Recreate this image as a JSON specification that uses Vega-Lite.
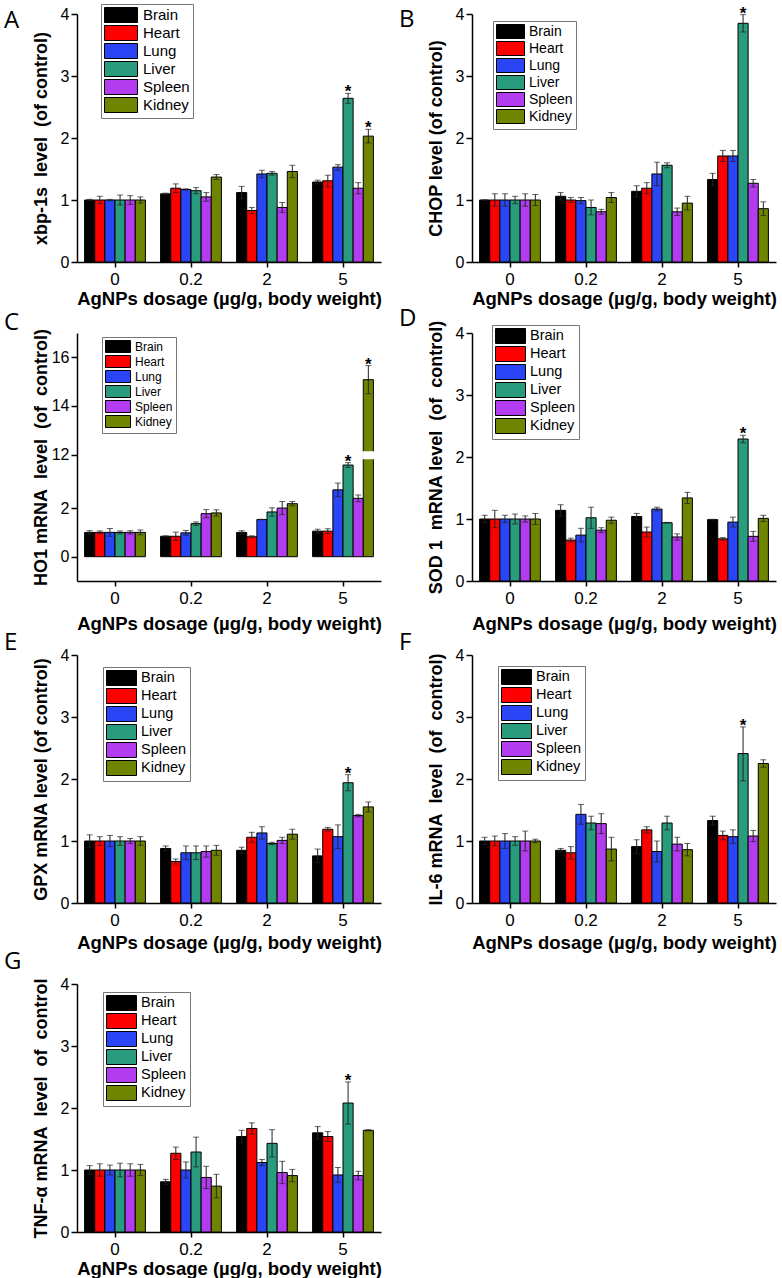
{
"$schema": "https://vega.github.io/schema/vega-lite/v6.json",
"background": "white",
"padding": {"left": 4, "top": 3, "right": 0, "bottom": 0},
"datasets": {"d": [
{"p":"A","d":"0","o":"Brain","v":1.0,"lo":0.99,"hi":1.01},
{"p":"A","d":"0","o":"Heart","v":1.0,"lo":0.94,"hi":1.06},
{"p":"A","d":"0","o":"Lung","v":1.0,"lo":0.99,"hi":1.01},
{"p":"A","d":"0","o":"Liver","v":1.0,"lo":0.92,"hi":1.08},
{"p":"A","d":"0","o":"Spleen","v":1.0,"lo":0.93,"hi":1.07},
{"p":"A","d":"0","o":"Kidney","v":1.0,"lo":0.95,"hi":1.05},
{"p":"A","d":"0.2","o":"Brain","v":1.10,"lo":1.09,"hi":1.11},
{"p":"A","d":"0.2","o":"Heart","v":1.19,"lo":1.12,"hi":1.26},
{"p":"A","d":"0.2","o":"Lung","v":1.17,"lo":1.16,"hi":1.18},
{"p":"A","d":"0.2","o":"Liver","v":1.15,"lo":1.10,"hi":1.20},
{"p":"A","d":"0.2","o":"Spleen","v":1.05,"lo":0.98,"hi":1.12},
{"p":"A","d":"0.2","o":"Kidney","v":1.37,"lo":1.33,"hi":1.41},
{"p":"A","d":"2","o":"Brain","v":1.12,"lo":1.02,"hi":1.22},
{"p":"A","d":"2","o":"Heart","v":0.83,"lo":0.78,"hi":0.88},
{"p":"A","d":"2","o":"Lung","v":1.42,"lo":1.36,"hi":1.48},
{"p":"A","d":"2","o":"Liver","v":1.43,"lo":1.40,"hi":1.46},
{"p":"A","d":"2","o":"Spleen","v":0.88,"lo":0.80,"hi":0.96},
{"p":"A","d":"2","o":"Kidney","v":1.46,"lo":1.36,"hi":1.56},
{"p":"A","d":"5","o":"Brain","v":1.29,"lo":1.26,"hi":1.32},
{"p":"A","d":"5","o":"Heart","v":1.31,"lo":1.21,"hi":1.40},
{"p":"A","d":"5","o":"Lung","v":1.53,"lo":1.48,"hi":1.57},
{"p":"A","d":"5","o":"Liver","v":2.64,"lo":2.56,"hi":2.72,"s":1},
{"p":"A","d":"5","o":"Spleen","v":1.19,"lo":1.10,"hi":1.28},
{"p":"A","d":"5","o":"Kidney","v":2.03,"lo":1.92,"hi":2.14,"s":1},
{"p":"B","d":"0","o":"Brain","v":1.0,"lo":1.0,"hi":1.0},
{"p":"B","d":"0","o":"Heart","v":1.0,"lo":0.9,"hi":1.1},
{"p":"B","d":"0","o":"Lung","v":1.0,"lo":0.9,"hi":1.1},
{"p":"B","d":"0","o":"Liver","v":1.0,"lo":0.94,"hi":1.06},
{"p":"B","d":"0","o":"Spleen","v":1.0,"lo":0.9,"hi":1.1},
{"p":"B","d":"0","o":"Kidney","v":1.0,"lo":0.91,"hi":1.09},
{"p":"B","d":"0.2","o":"Brain","v":1.06,"lo":1.0,"hi":1.12},
{"p":"B","d":"0.2","o":"Heart","v":1.0,"lo":0.96,"hi":1.04},
{"p":"B","d":"0.2","o":"Lung","v":0.99,"lo":0.94,"hi":1.04},
{"p":"B","d":"0.2","o":"Liver","v":0.88,"lo":0.76,"hi":1.0},
{"p":"B","d":"0.2","o":"Spleen","v":0.81,"lo":0.77,"hi":0.85},
{"p":"B","d":"0.2","o":"Kidney","v":1.04,"lo":0.96,"hi":1.12},
{"p":"B","d":"2","o":"Brain","v":1.14,"lo":1.05,"hi":1.23},
{"p":"B","d":"2","o":"Heart","v":1.19,"lo":1.1,"hi":1.28},
{"p":"B","d":"2","o":"Lung","v":1.42,"lo":1.23,"hi":1.61},
{"p":"B","d":"2","o":"Liver","v":1.56,"lo":1.52,"hi":1.6},
{"p":"B","d":"2","o":"Spleen","v":0.81,"lo":0.75,"hi":0.87},
{"p":"B","d":"2","o":"Kidney","v":0.95,"lo":0.84,"hi":1.06},
{"p":"B","d":"5","o":"Brain","v":1.33,"lo":1.23,"hi":1.43},
{"p":"B","d":"5","o":"Heart","v":1.71,"lo":1.62,"hi":1.8},
{"p":"B","d":"5","o":"Lung","v":1.71,"lo":1.62,"hi":1.8},
{"p":"B","d":"5","o":"Liver","v":3.85,"lo":3.71,"hi":3.99,"s":1},
{"p":"B","d":"5","o":"Spleen","v":1.27,"lo":1.21,"hi":1.33},
{"p":"B","d":"5","o":"Kidney","v":0.86,"lo":0.75,"hi":0.97},
{"p":"C","d":"0","o":"Brain","v":1.0,"lo":0.93,"hi":1.07},
{"p":"C","d":"0","o":"Heart","v":1.0,"lo":0.94,"hi":1.06},
{"p":"C","d":"0","o":"Lung","v":1.0,"lo":0.84,"hi":1.16},
{"p":"C","d":"0","o":"Liver","v":1.0,"lo":0.94,"hi":1.06},
{"p":"C","d":"0","o":"Spleen","v":1.0,"lo":0.93,"hi":1.07},
{"p":"C","d":"0","o":"Kidney","v":1.0,"lo":0.9,"hi":1.1},
{"p":"C","d":"0.2","o":"Brain","v":0.84,"lo":0.82,"hi":0.86},
{"p":"C","d":"0.2","o":"Heart","v":0.84,"lo":0.67,"hi":1.01},
{"p":"C","d":"0.2","o":"Lung","v":0.98,"lo":0.88,"hi":1.08},
{"p":"C","d":"0.2","o":"Liver","v":1.36,"lo":1.29,"hi":1.43},
{"p":"C","d":"0.2","o":"Spleen","v":1.77,"lo":1.6,"hi":1.94},
{"p":"C","d":"0.2","o":"Kidney","v":1.8,"lo":1.67,"hi":1.93},
{"p":"C","d":"2","o":"Brain","v":1.0,"lo":0.93,"hi":1.07},
{"p":"C","d":"2","o":"Heart","v":0.82,"lo":0.78,"hi":0.86},
{"p":"C","d":"2","o":"Lung","v":1.53,"lo":1.52,"hi":1.54},
{"p":"C","d":"2","o":"Liver","v":1.84,"lo":1.67,"hi":2.01},
{"p":"C","d":"2","o":"Spleen","v":2.0,"lo":1.73,"hi":2.27},
{"p":"C","d":"2","o":"Kidney","v":2.18,"lo":2.09,"hi":2.27},
{"p":"C","d":"5","o":"Brain","v":1.05,"lo":0.97,"hi":1.13},
{"p":"C","d":"5","o":"Heart","v":1.05,"lo":0.95,"hi":1.15},
{"p":"C","d":"5","o":"Lung","v":2.75,"lo":2.47,"hi":3.03},
{"p":"C","d":"5","o":"Liver","v":3.77,"lo":3.67,"hi":3.87,"s":1},
{"p":"C","d":"5","o":"Spleen","v":2.4,"lo":2.26,"hi":2.54},
{"p":"C","d":"5","o":"Kidney","v":15.08,"lo":14.5,"hi":15.66,"s":1},
{"p":"D","d":"0","o":"Brain","v":1.0,"lo":0.94,"hi":1.06},
{"p":"D","d":"0","o":"Heart","v":1.0,"lo":0.86,"hi":1.14},
{"p":"D","d":"0","o":"Lung","v":1.0,"lo":0.94,"hi":1.06},
{"p":"D","d":"0","o":"Liver","v":1.0,"lo":0.92,"hi":1.08},
{"p":"D","d":"0","o":"Spleen","v":1.0,"lo":0.95,"hi":1.05},
{"p":"D","d":"0","o":"Kidney","v":1.0,"lo":0.91,"hi":1.09},
{"p":"D","d":"0.2","o":"Brain","v":1.14,"lo":1.05,"hi":1.23},
{"p":"D","d":"0.2","o":"Heart","v":0.66,"lo":0.63,"hi":0.69},
{"p":"D","d":"0.2","o":"Lung","v":0.74,"lo":0.63,"hi":0.85},
{"p":"D","d":"0.2","o":"Liver","v":1.02,"lo":0.85,"hi":1.19},
{"p":"D","d":"0.2","o":"Spleen","v":0.82,"lo":0.78,"hi":0.86},
{"p":"D","d":"0.2","o":"Kidney","v":0.98,"lo":0.93,"hi":1.03},
{"p":"D","d":"2","o":"Brain","v":1.04,"lo":0.99,"hi":1.09},
{"p":"D","d":"2","o":"Heart","v":0.79,"lo":0.71,"hi":0.87},
{"p":"D","d":"2","o":"Lung","v":1.16,"lo":1.13,"hi":1.19},
{"p":"D","d":"2","o":"Liver","v":0.94,"lo":0.935,"hi":0.945},
{"p":"D","d":"2","o":"Spleen","v":0.71,"lo":0.66,"hi":0.76},
{"p":"D","d":"2","o":"Kidney","v":1.34,"lo":1.25,"hi":1.43},
{"p":"D","d":"5","o":"Brain","v":0.99,"lo":0.985,"hi":0.995},
{"p":"D","d":"5","o":"Heart","v":0.68,"lo":0.66,"hi":0.7},
{"p":"D","d":"5","o":"Lung","v":0.95,"lo":0.87,"hi":1.03},
{"p":"D","d":"5","o":"Liver","v":2.29,"lo":2.23,"hi":2.35,"s":1},
{"p":"D","d":"5","o":"Spleen","v":0.72,"lo":0.64,"hi":0.8},
{"p":"D","d":"5","o":"Kidney","v":1.01,"lo":0.96,"hi":1.06},
{"p":"E","d":"0","o":"Brain","v":1.0,"lo":0.9,"hi":1.1},
{"p":"E","d":"0","o":"Heart","v":1.0,"lo":0.93,"hi":1.07},
{"p":"E","d":"0","o":"Lung","v":1.0,"lo":0.91,"hi":1.09},
{"p":"E","d":"0","o":"Liver","v":1.0,"lo":0.93,"hi":1.07},
{"p":"E","d":"0","o":"Spleen","v":1.0,"lo":0.96,"hi":1.04},
{"p":"E","d":"0","o":"Kidney","v":1.0,"lo":0.93,"hi":1.07},
{"p":"E","d":"0.2","o":"Brain","v":0.88,"lo":0.84,"hi":0.92},
{"p":"E","d":"0.2","o":"Heart","v":0.67,"lo":0.63,"hi":0.71},
{"p":"E","d":"0.2","o":"Lung","v":0.81,"lo":0.7,"hi":0.92},
{"p":"E","d":"0.2","o":"Liver","v":0.81,"lo":0.7,"hi":0.92},
{"p":"E","d":"0.2","o":"Spleen","v":0.83,"lo":0.74,"hi":0.92},
{"p":"E","d":"0.2","o":"Kidney","v":0.85,"lo":0.77,"hi":0.93},
{"p":"E","d":"2","o":"Brain","v":0.85,"lo":0.8,"hi":0.9},
{"p":"E","d":"2","o":"Heart","v":1.06,"lo":0.98,"hi":1.14},
{"p":"E","d":"2","o":"Lung","v":1.13,"lo":1.03,"hi":1.23},
{"p":"E","d":"2","o":"Liver","v":0.96,"lo":0.94,"hi":0.98},
{"p":"E","d":"2","o":"Spleen","v":1.01,"lo":0.96,"hi":1.06},
{"p":"E","d":"2","o":"Kidney","v":1.11,"lo":1.03,"hi":1.19},
{"p":"E","d":"5","o":"Brain","v":0.76,"lo":0.65,"hi":0.87},
{"p":"E","d":"5","o":"Heart","v":1.19,"lo":1.16,"hi":1.22},
{"p":"E","d":"5","o":"Lung","v":1.07,"lo":0.88,"hi":1.26},
{"p":"E","d":"5","o":"Liver","v":1.94,"lo":1.81,"hi":2.07,"s":1},
{"p":"E","d":"5","o":"Spleen","v":1.41,"lo":1.39,"hi":1.43},
{"p":"E","d":"5","o":"Kidney","v":1.55,"lo":1.47,"hi":1.63},
{"p":"F","d":"0","o":"Brain","v":1.0,"lo":0.94,"hi":1.06},
{"p":"F","d":"0","o":"Heart","v":1.0,"lo":0.92,"hi":1.08},
{"p":"F","d":"0","o":"Lung","v":1.0,"lo":0.88,"hi":1.12},
{"p":"F","d":"0","o":"Liver","v":1.0,"lo":0.93,"hi":1.07},
{"p":"F","d":"0","o":"Spleen","v":1.0,"lo":0.84,"hi":1.16},
{"p":"F","d":"0","o":"Kidney","v":1.0,"lo":0.97,"hi":1.03},
{"p":"F","d":"0.2","o":"Brain","v":0.85,"lo":0.82,"hi":0.88},
{"p":"F","d":"0.2","o":"Heart","v":0.81,"lo":0.71,"hi":0.91},
{"p":"F","d":"0.2","o":"Lung","v":1.43,"lo":1.27,"hi":1.59},
{"p":"F","d":"0.2","o":"Liver","v":1.29,"lo":1.18,"hi":1.4},
{"p":"F","d":"0.2","o":"Spleen","v":1.28,"lo":1.12,"hi":1.44},
{"p":"F","d":"0.2","o":"Kidney","v":0.87,"lo":0.68,"hi":1.06},
{"p":"F","d":"2","o":"Brain","v":0.91,"lo":0.8,"hi":1.02},
{"p":"F","d":"2","o":"Heart","v":1.18,"lo":1.13,"hi":1.23},
{"p":"F","d":"2","o":"Lung","v":0.83,"lo":0.66,"hi":1.0},
{"p":"F","d":"2","o":"Liver","v":1.29,"lo":1.18,"hi":1.4},
{"p":"F","d":"2","o":"Spleen","v":0.95,"lo":0.84,"hi":1.06},
{"p":"F","d":"2","o":"Kidney","v":0.86,"lo":0.76,"hi":0.96},
{"p":"F","d":"5","o":"Brain","v":1.33,"lo":1.26,"hi":1.4},
{"p":"F","d":"5","o":"Heart","v":1.09,"lo":1.02,"hi":1.16},
{"p":"F","d":"5","o":"Lung","v":1.07,"lo":0.96,"hi":1.18},
{"p":"F","d":"5","o":"Liver","v":2.41,"lo":1.97,"hi":2.84,"s":1},
{"p":"F","d":"5","o":"Spleen","v":1.08,"lo":0.99,"hi":1.17},
{"p":"F","d":"5","o":"Kidney","v":2.25,"lo":2.19,"hi":2.31},
{"p":"G","d":"0","o":"Brain","v":1.0,"lo":0.93,"hi":1.07},
{"p":"G","d":"0","o":"Heart","v":1.0,"lo":0.9,"hi":1.1},
{"p":"G","d":"0","o":"Lung","v":1.0,"lo":0.92,"hi":1.08},
{"p":"G","d":"0","o":"Liver","v":1.0,"lo":0.89,"hi":1.11},
{"p":"G","d":"0","o":"Spleen","v":1.0,"lo":0.9,"hi":1.1},
{"p":"G","d":"0","o":"Kidney","v":1.0,"lo":0.91,"hi":1.09},
{"p":"G","d":"0.2","o":"Brain","v":0.81,"lo":0.77,"hi":0.85},
{"p":"G","d":"0.2","o":"Heart","v":1.27,"lo":1.17,"hi":1.37},
{"p":"G","d":"0.2","o":"Lung","v":1.0,"lo":0.87,"hi":1.13},
{"p":"G","d":"0.2","o":"Liver","v":1.29,"lo":1.05,"hi":1.53},
{"p":"G","d":"0.2","o":"Spleen","v":0.88,"lo":0.7,"hi":1.06},
{"p":"G","d":"0.2","o":"Kidney","v":0.74,"lo":0.55,"hi":0.93},
{"p":"G","d":"2","o":"Brain","v":1.54,"lo":1.44,"hi":1.64},
{"p":"G","d":"2","o":"Heart","v":1.67,"lo":1.58,"hi":1.76},
{"p":"G","d":"2","o":"Lung","v":1.12,"lo":1.07,"hi":1.17},
{"p":"G","d":"2","o":"Liver","v":1.43,"lo":1.21,"hi":1.65},
{"p":"G","d":"2","o":"Spleen","v":0.96,"lo":0.78,"hi":1.14},
{"p":"G","d":"2","o":"Kidney","v":0.91,"lo":0.81,"hi":1.01},
{"p":"G","d":"5","o":"Brain","v":1.6,"lo":1.5,"hi":1.7},
{"p":"G","d":"5","o":"Heart","v":1.54,"lo":1.46,"hi":1.62},
{"p":"G","d":"5","o":"Lung","v":0.92,"lo":0.8,"hi":1.04},
{"p":"G","d":"5","o":"Liver","v":2.08,"lo":1.74,"hi":2.42,"s":1},
{"p":"G","d":"5","o":"Spleen","v":0.91,"lo":0.84,"hi":0.98},
{"p":"G","d":"5","o":"Kidney","v":1.64,"lo":1.63,"hi":1.65}
]},
"data": {"name": "d"},
"resolve": {"legend": {"color": "independent"}},
"spacing": -2,
"vconcat": [
{"hconcat": [
 {"width": 304, "height": 248,
  "title": {"text": "A", "offset": -29},
  "transform": [{"filter": "datum.p == 'A'"}],
  "encoding": {
   "x": {"field": "d", "type": "nominal", "sort": ["0","0.2","2","5"], "scale": {"paddingInner": 0.2, "paddingOuter": 0.1}, "title": "AgNPs dosage (µg/g, body weight)"},
   "xOffset": {"field": "o", "type": "nominal", "sort": ["Brain","Heart","Lung","Liver","Spleen","Kidney"], "scale": {"paddingInner": 0, "paddingOuter": 0}}
  },
  "layer": [
   {"mark": {"type": "bar", "stroke": "black", "strokeWidth": 1},
    "encoding": {
     "y": {"field": "v", "type": "quantitative", "title": "xbp-1s\u00a0 level\u00a0 (of control)", "scale": {"domain": [0, 4], "nice": false},
      "axis": {"values": [0,0.5,1,1.5,2,2.5,3,3.5,4], "labelExpr": "datum.value % 1 === 0 ? format(datum.value, 'd') : ''", "tickSize": {"condition": {"test": "datum.value % 1 !== 0", "value": 3}, "value": 6}}},
     "color": {"field": "o", "type": "nominal", "sort": ["Brain","Heart","Lung","Liver","Spleen","Kidney"],
      "scale": {"domain": ["Brain","Heart","Lung","Liver","Spleen","Kidney"], "range": ["#000000","#ff0000","#2a45f5","#289c7c","#b43cf0","#6f8500"]},
      "legend": {"title": null, "orient": "none", "legendX": 24, "legendY": -10, "symbolType": "M-1,-1H3.4V1H-1Z", "symbolSize": 225, "labelOffset": 23, "labelFontSize": 15, "rowPadding": -2}}
    }},
   {"mark": {"type": "errorbar", "ticks": {"size": 6}, "color": "#222", "thickness": 1},
    "encoding": {"y": {"field": "lo", "type": "quantitative", "title": "xbp-1s\u00a0 level\u00a0 (of control)"}, "y2": {"field": "hi"}}},
   {"transform": [{"filter": "datum.s == 1"}],
    "mark": {"type": "text", "text": "*", "fontSize": 17, "fontWeight": "bold", "baseline": "alphabetic", "dy": 4},
    "encoding": {"y": {"field": "hi", "type": "quantitative", "title": "xbp-1s\u00a0 level\u00a0 (of control)"}}}
  ]},
 {"width": 304, "height": 248,
  "title": {"text": "B", "offset": -27},
  "transform": [{"filter": "datum.p == 'B'"}],
  "encoding": {
   "x": {"field": "d", "type": "nominal", "sort": ["0","0.2","2","5"], "scale": {"paddingInner": 0.2, "paddingOuter": 0.1}, "title": "AgNPs dosage (µg/g, body weight)"},
   "xOffset": {"field": "o", "type": "nominal", "sort": ["Brain","Heart","Lung","Liver","Spleen","Kidney"], "scale": {"paddingInner": 0, "paddingOuter": 0}}
  },
  "layer": [
   {"mark": {"type": "bar", "stroke": "black", "strokeWidth": 1},
    "encoding": {
     "y": {"field": "v", "type": "quantitative", "title": "CHOP level (of control)", "scale": {"domain": [0, 4], "nice": false},
      "axis": {"values": [0,0.5,1,1.5,2,2.5,3,3.5,4], "labelExpr": "datum.value % 1 === 0 ? format(datum.value, 'd') : ''", "tickSize": {"condition": {"test": "datum.value % 1 !== 0", "value": 3}, "value": 6}}},
     "color": {"field": "o", "type": "nominal", "sort": ["Brain","Heart","Lung","Liver","Spleen","Kidney"],
      "scale": {"domain": ["Brain","Heart","Lung","Liver","Spleen","Kidney"], "range": ["#000000","#ff0000","#2a45f5","#289c7c","#b43cf0","#6f8500"]},
      "legend": {"title": null, "orient": "none", "legendX": 21, "legendY": 7, "symbolType": "M-1,-1H3V1H-1Z", "symbolSize": 196, "labelOffset": 18, "labelFontSize": 14, "rowPadding": -2.4}}
    }},
   {"mark": {"type": "errorbar", "ticks": {"size": 6}, "color": "#222", "thickness": 1},
    "encoding": {"y": {"field": "lo", "type": "quantitative", "title": "CHOP level (of control)"}, "y2": {"field": "hi"}}},
   {"transform": [{"filter": "datum.s == 1"}],
    "mark": {"type": "text", "text": "*", "fontSize": 17, "fontWeight": "bold", "baseline": "alphabetic", "dy": 4},
    "encoding": {"y": {"field": "hi", "type": "quantitative", "title": "CHOP level (of control)"}}}
  ]}
 ], "spacing": 17, "resolve": {"legend": {"color": "independent"}}},
{"hconcat": [
 {"width": 304, "height": 248,
  "title": {"text": "C", "offset": -7},
  "transform": [{"filter": "datum.p == 'C'"}],
  "encoding": {
   "x": {"field": "d", "type": "nominal", "sort": ["0","0.2","2","5"], "scale": {"paddingInner": 0.2, "paddingOuter": 0.1}, "title": "AgNPs dosage (µg/g, body weight)", "axis": {"titlePadding": 8}},
   "xOffset": {"field": "o", "type": "nominal", "sort": ["Brain","Heart","Lung","Liver","Spleen","Kidney"], "scale": {"paddingInner": 0, "paddingOuter": 0}}
  },
  "layer": [
   {"mark": {"type": "bar", "stroke": "black", "strokeWidth": 1},
    "encoding": {
     "y": {"field": "v", "type": "quantitative", "title": "HO1 mRNA\u00a0 level\u00a0 (of\u00a0 control)", "scale": {"domain": [-1, 4.2, 12, 17], "range": [248, 121.6, 121.6, 0], "nice": false, "zero": false},
      "axis": {"values": [0,1,2,3,12,13,14,15,16], "titlePadding": 1, "labelExpr": "datum.value % 2 === 0 ? format(datum.value, 'd') : ''", "tickSize": {"condition": {"test": "datum.value % 2 !== 0", "value": 3}, "value": 6}}},
     "color": {"field": "o", "type": "nominal", "sort": ["Brain","Heart","Lung","Liver","Spleen","Kidney"],
      "scale": {"domain": ["Brain","Heart","Lung","Liver","Spleen","Kidney"], "range": ["#000000","#ff0000","#2a45f5","#289c7c","#b43cf0","#6f8500"]},
      "legend": {"title": null, "orient": "none", "legendX": 25, "legendY": 4, "symbolType": "M-1,-1H3.17V1H-1Z", "symbolSize": 144, "labelOffset": 17, "labelFontSize": 12, "rowPadding": -2.7}}
    }},
   {"mark": {"type": "errorbar", "ticks": {"size": 6}, "color": "#222", "thickness": 1},
    "encoding": {"y": {"field": "lo", "type": "quantitative", "title": "HO1 mRNA\u00a0 level\u00a0 (of\u00a0 control)"}, "y2": {"field": "hi"}}},
   {"transform": [{"filter": "datum.s == 1"}],
    "mark": {"type": "text", "text": "*", "fontSize": 17, "fontWeight": "bold", "baseline": "alphabetic", "dy": 4},
    "encoding": {"y": {"field": "hi", "type": "quantitative", "title": "HO1 mRNA\u00a0 level\u00a0 (of\u00a0 control)"}}},
   {"data": {"values": [{}]},
    "mark": {"type": "bar", "color": "white", "stroke": "white", "strokeWidth": 2},
    "encoding": {"x": {"datum": "5"}, "xOffset": {"datum": "Kidney"}, "y": {"datum": 4.05}, "y2": {"datum": 12.1}}}
  ]},
 {"width": 304, "height": 248,
  "title": {"text": "D", "offset": -11},
  "transform": [{"filter": "datum.p == 'D'"}],
  "encoding": {
   "x": {"field": "d", "type": "nominal", "sort": ["0","0.2","2","5"], "scale": {"paddingInner": 0.2, "paddingOuter": 0.1}, "title": "AgNPs dosage (µg/g, body weight)", "axis": {"titlePadding": 8}},
   "xOffset": {"field": "o", "type": "nominal", "sort": ["Brain","Heart","Lung","Liver","Spleen","Kidney"], "scale": {"paddingInner": 0, "paddingOuter": 0}}
  },
  "layer": [
   {"mark": {"type": "bar", "stroke": "black", "strokeWidth": 1},
    "encoding": {
     "y": {"field": "v", "type": "quantitative", "title": "SOD 1\u00a0 mRNA level\u00a0 (of\u00a0 control)", "scale": {"domain": [0, 4], "nice": false},
      "axis": {"values": [0,0.5,1,1.5,2,2.5,3,3.5,4], "labelExpr": "datum.value % 1 === 0 ? format(datum.value, 'd') : ''", "tickSize": {"condition": {"test": "datum.value % 1 !== 0", "value": 3}, "value": 6}}},
     "color": {"field": "o", "type": "nominal", "sort": ["Brain","Heart","Lung","Liver","Spleen","Kidney"],
      "scale": {"domain": ["Brain","Heart","Lung","Liver","Spleen","Kidney"], "range": ["#000000","#ff0000","#2a45f5","#289c7c","#b43cf0","#6f8500"]},
      "legend": {"title": null, "orient": "none", "legendX": 20, "legendY": -8, "symbolType": "M-1,-1H3V1H-1Z", "symbolSize": 225, "labelOffset": 19, "labelFontSize": 14.5, "rowPadding": -3}}
    }},
   {"mark": {"type": "errorbar", "ticks": {"size": 6}, "color": "#222", "thickness": 1},
    "encoding": {"y": {"field": "lo", "type": "quantitative", "title": "SOD 1\u00a0 mRNA level\u00a0 (of\u00a0 control)"}, "y2": {"field": "hi"}}},
   {"transform": [{"filter": "datum.s == 1"}],
    "mark": {"type": "text", "text": "*", "fontSize": 17, "fontWeight": "bold", "baseline": "alphabetic", "dy": 4},
    "encoding": {"y": {"field": "hi", "type": "quantitative", "title": "SOD 1\u00a0 mRNA level\u00a0 (of\u00a0 control)"}}}
  ]}
 ], "spacing": 17, "resolve": {"legend": {"color": "independent"}}},
{"hconcat": [
 {"width": 304, "height": 248,
  "title": {"text": "E", "offset": -8},
  "transform": [{"filter": "datum.p == 'E'"}],
  "encoding": {
   "x": {"field": "d", "type": "nominal", "sort": ["0","0.2","2","5"], "scale": {"paddingInner": 0.2, "paddingOuter": 0.1}, "title": "AgNPs dosage (µg/g, body weight)", "axis": {"titlePadding": 5}},
   "xOffset": {"field": "o", "type": "nominal", "sort": ["Brain","Heart","Lung","Liver","Spleen","Kidney"], "scale": {"paddingInner": 0, "paddingOuter": 0}}
  },
  "layer": [
   {"mark": {"type": "bar", "stroke": "black", "strokeWidth": 1},
    "encoding": {
     "y": {"field": "v", "type": "quantitative", "title": "GPX mRNA level (of control)", "scale": {"domain": [0, 4], "nice": false},
      "axis": {"values": [0,0.5,1,1.5,2,2.5,3,3.5,4], "labelExpr": "datum.value % 1 === 0 ? format(datum.value, 'd') : ''", "tickSize": {"condition": {"test": "datum.value % 1 !== 0", "value": 3}, "value": 6}}},
     "color": {"field": "o", "type": "nominal", "sort": ["Brain","Heart","Lung","Liver","Spleen","Kidney"],
      "scale": {"domain": ["Brain","Heart","Lung","Liver","Spleen","Kidney"], "range": ["#000000","#ff0000","#2a45f5","#289c7c","#b43cf0","#6f8500"]},
      "legend": {"title": null, "orient": "none", "legendX": 26, "legendY": 12, "symbolType": "M-1,-1H3V1H-1Z", "symbolSize": 225, "labelOffset": 19, "labelFontSize": 14.5, "rowPadding": -3.3}}
    }},
   {"mark": {"type": "errorbar", "ticks": {"size": 6}, "color": "#222", "thickness": 1},
    "encoding": {"y": {"field": "lo", "type": "quantitative", "title": "GPX mRNA level (of control)"}, "y2": {"field": "hi"}}},
   {"transform": [{"filter": "datum.s == 1"}],
    "mark": {"type": "text", "text": "*", "fontSize": 17, "fontWeight": "bold", "baseline": "alphabetic", "dy": 4},
    "encoding": {"y": {"field": "hi", "type": "quantitative", "title": "GPX mRNA level (of control)"}}}
  ]},
 {"width": 304, "height": 248,
  "title": {"text": "F", "offset": -8},
  "transform": [{"filter": "datum.p == 'F'"}],
  "encoding": {
   "x": {"field": "d", "type": "nominal", "sort": ["0","0.2","2","5"], "scale": {"paddingInner": 0.2, "paddingOuter": 0.1}, "title": "AgNPs dosage (µg/g, body weight)", "axis": {"titlePadding": 5}},
   "xOffset": {"field": "o", "type": "nominal", "sort": ["Brain","Heart","Lung","Liver","Spleen","Kidney"], "scale": {"paddingInner": 0, "paddingOuter": 0}}
  },
  "layer": [
   {"mark": {"type": "bar", "stroke": "black", "strokeWidth": 1},
    "encoding": {
     "y": {"field": "v", "type": "quantitative", "title": "IL-6 mRNA\u00a0 level\u00a0 (of\u00a0 control)", "scale": {"domain": [0, 4], "nice": false},
      "axis": {"values": [0,0.5,1,1.5,2,2.5,3,3.5,4], "labelExpr": "datum.value % 1 === 0 ? format(datum.value, 'd') : ''", "tickSize": {"condition": {"test": "datum.value % 1 !== 0", "value": 3}, "value": 6}}},
     "color": {"field": "o", "type": "nominal", "sort": ["Brain","Heart","Lung","Liver","Spleen","Kidney"],
      "scale": {"domain": ["Brain","Heart","Lung","Liver","Spleen","Kidney"], "range": ["#000000","#ff0000","#2a45f5","#289c7c","#b43cf0","#6f8500"]},
      "legend": {"title": null, "orient": "none", "legendX": 26, "legendY": 11, "symbolType": "M-1,-1H3V1H-1Z", "symbolSize": 225, "labelOffset": 19, "labelFontSize": 14.5, "rowPadding": -3.3}}
    }},
   {"mark": {"type": "errorbar", "ticks": {"size": 6}, "color": "#222", "thickness": 1},
    "encoding": {"y": {"field": "lo", "type": "quantitative", "title": "IL-6 mRNA\u00a0 level\u00a0 (of\u00a0 control)"}, "y2": {"field": "hi"}}},
   {"transform": [{"filter": "datum.s == 1"}],
    "mark": {"type": "text", "text": "*", "fontSize": 17, "fontWeight": "bold", "baseline": "alphabetic", "dy": 4},
    "encoding": {"y": {"field": "hi", "type": "quantitative", "title": "IL-6 mRNA\u00a0 level\u00a0 (of\u00a0 control)"}}}
  ]}
 ], "spacing": 17, "resolve": {"legend": {"color": "independent"}}},
{"width": 304, "height": 248,
  "title": {"text": "G", "offset": 2},
  "transform": [{"filter": "datum.p == 'G'"}],
  "encoding": {
   "x": {"field": "d", "type": "nominal", "sort": ["0","0.2","2","5"], "scale": {"paddingInner": 0.2, "paddingOuter": 0.1}, "title": "AgNPs dosage (µg/g, body weight)", "axis": {"titlePadding": 2}},
   "xOffset": {"field": "o", "type": "nominal", "sort": ["Brain","Heart","Lung","Liver","Spleen","Kidney"], "scale": {"paddingInner": 0, "paddingOuter": 0}}
  },
  "layer": [
   {"mark": {"type": "bar", "stroke": "black", "strokeWidth": 1},
    "encoding": {
     "y": {"field": "v", "type": "quantitative", "title": "TNF-α mRNA\u00a0 level\u00a0 of\u00a0 control", "scale": {"domain": [0, 4], "nice": false},
      "axis": {"values": [0,0.5,1,1.5,2,2.5,3,3.5,4], "labelExpr": "datum.value % 1 === 0 ? format(datum.value, 'd') : ''", "tickSize": {"condition": {"test": "datum.value % 1 !== 0", "value": 3}, "value": 6}}},
     "color": {"field": "o", "type": "nominal", "sort": ["Brain","Heart","Lung","Liver","Spleen","Kidney"],
      "scale": {"domain": ["Brain","Heart","Lung","Liver","Spleen","Kidney"], "range": ["#000000","#ff0000","#2a45f5","#289c7c","#b43cf0","#6f8500"]},
      "legend": {"title": null, "orient": "none", "legendX": 26, "legendY": 8, "symbolType": "M-1,-1H3V1H-1Z", "symbolSize": 225, "labelOffset": 19, "labelFontSize": 14.5, "rowPadding": -3.3}}
    }},
   {"mark": {"type": "errorbar", "ticks": {"size": 6}, "color": "#222", "thickness": 1},
    "encoding": {"y": {"field": "lo", "type": "quantitative", "title": "TNF-α mRNA\u00a0 level\u00a0 of\u00a0 control"}, "y2": {"field": "hi"}}},
   {"transform": [{"filter": "datum.s == 1"}],
    "mark": {"type": "text", "text": "*", "fontSize": 17, "fontWeight": "bold", "baseline": "alphabetic", "dy": 4},
    "encoding": {"y": {"field": "hi", "type": "quantitative", "title": "TNF-α mRNA\u00a0 level\u00a0 of\u00a0 control"}}}
  ]}
],
"config": {
 "view": {"stroke": null},
 "font": "Liberation Sans",
 "title": {"font": "Open Sans", "fontSize": 24, "fontWeight": "normal", "color": "black", "anchor": "start", "frame": "group", "dx": -73},
 "axis": {"grid": false, "domainColor": "black", "domainWidth": 1.5, "tickColor": "black", "tickWidth": 1.5, "labelColor": "black", "titleColor": "black", "labelFont": "Liberation Sans", "titleFont": "Liberation Sans", "titleFontWeight": "bold", "titleFontSize": 18},
 "axisX": {"labelAngle": 0, "labelFontSize": 17, "tickSize": 5, "labelPadding": 4, "titlePadding": 2, "titleFontSize": 18.5},
 "axisY": {"labelFontSize": 16, "labelPadding": 2, "titlePadding": 10},
 "legend": {"symbolStrokeColor": "black", "symbolStrokeWidth": 1, "strokeColor": "#777", "fillColor": "white", "padding": 3, "labelFont": "Liberation Sans", "labelColor": "black", "symbolOpacity": 1}
}
}
